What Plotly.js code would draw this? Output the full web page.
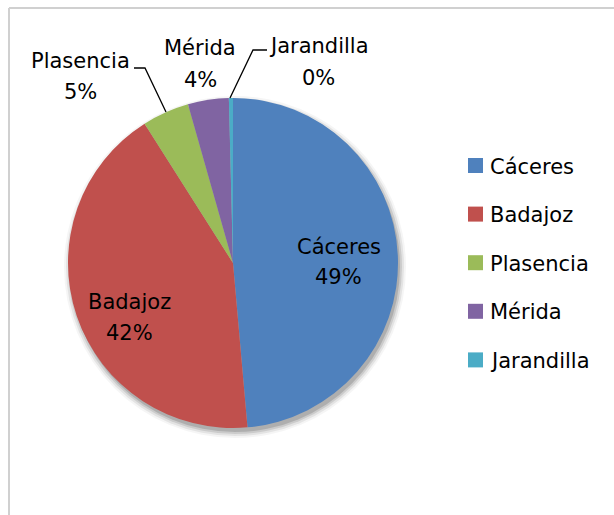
<!DOCTYPE html>
<html>
<head>
<meta charset="utf-8">
<script src="https://cdn.plot.ly/plotly-3.0.1.min.js"></script>
<style>body{margin:0;background:#fff}#chart{width:614px;height:515px}</style>
</head>
<body>
<div id="chart"></div>
<script>
const categories = ["Cáceres", "Badajoz", "Plasencia", "Mérida", "Jarandilla"];
const values = [48.6, 42.4, 4.6, 4.0, 0.4];
const sliceColors = ["#4F81BD", "#C0504D", "#9BBB59", "#8064A2", "#4BACC6"];

const W = 614, H = 515;
const px = x => x / W;
const py = y => 1 - y / H;
const cx = 233, cy = 263, R = 165;
const FONT = "DejaVu Sans";
const FS = 21;
const total = values.reduce((a, b) => a + b, 0);
const pct = values.map(v => Math.round(v / total * 100) + "%");

const trace = {
  type: "pie",
  labels: categories,
  values: values,
  sort: false,
  direction: "clockwise",
  rotation: 0,
  marker: {colors: sliceColors, line: {width: 0}},
  domain: {x: [px(cx - R), px(cx + R)], y: [py(cy + R), py(cy - R)]},
  textinfo: "none",
  showlegend: false,
  hoverinfo: "none"
};

const annotations = [];
const shapes = [];

// chart frame
shapes.push({type: "line", xref: "paper", yref: "paper", x0: px(9), x1: px(9), y0: py(8), y1: py(H + 5), line: {color: "#d0d0d0", width: 2}});
shapes.push({type: "line", xref: "paper", yref: "paper", x0: px(9), x1: px(W + 5), y0: py(8), y1: py(8), line: {color: "#d0d0d0", width: 2}});

// soft drop shadow
[[6, "rgba(0,0,0,0.04)"], [4, "rgba(0,0,0,0.07)"], [2, "rgba(0,0,0,0.10)"], [0, "rgba(0,0,0,0.14)"]].forEach(([g, col]) => {
  shapes.push({type: "circle", xref: "paper", yref: "paper", layer: "below",
    x0: px(cx - R + 2 - g), x1: px(cx + R + 2 + g), y0: py(cy + R + 4 + g), y1: py(cy - R + 4 - g),
    fillcolor: col, line: {width: 0}});
});

// data labels: [index, centerX, nameY, pctY]
const labelPos = [[0, 338.5, 247, 277], [1, 129, 301.5, 333], [2, 80.5, 61, 91.5], [3, 200, 48, 80.5], [4, 318.5, 46.5, 78]];
labelPos.forEach(([i, x, y1, y2]) => {
  annotations.push({xref: "paper", yref: "paper", x: px(x), y: py(y1), text: categories[i], showarrow: false,
    xanchor: "center", yanchor: "middle", font: {family: FONT, size: FS, color: "#000"}});
  annotations.push({xref: "paper", yref: "paper", x: px(x), y: py(y2), text: pct[i], showarrow: false,
    xanchor: "center", yanchor: "middle", font: {family: FONT, size: FS, color: "#000"}});
});

// leader lines
const toPath = pts => pts.map((p, k) => (k ? "L" : "M") + px(p[0]) + "," + py(p[1])).join(" ");
[[[134, 68], [145, 68], [166, 112]], [[267, 50], [253, 50], [230, 98]]].forEach(pts => {
  shapes.push({type: "path", xref: "paper", yref: "paper", path: toPath(pts), line: {color: "#000", width: 1.3}});
});

// legend
categories.forEach((c, i) => {
  const yc = 165.5 + i * 48.6;
  shapes.push({type: "rect", xref: "paper", yref: "paper", x0: px(468), x1: px(483), y0: py(yc + 7.5), y1: py(yc - 7.5),
    fillcolor: sliceColors[i], line: {width: 0}});
  annotations.push({xref: "paper", yref: "paper", x: px(488), y: py(yc + 1), text: c, showarrow: false,
    xanchor: "left", yanchor: "middle", font: {family: FONT, size: FS, color: "#000"}});
});

const layout = {
  width: W, height: H,
  margin: {l: 0, r: 0, t: 0, b: 0},
  paper_bgcolor: "#fff",
  showlegend: false,
  annotations: annotations,
  shapes: shapes
};

Plotly.newPlot("chart", [trace], layout, {displayModeBar: false, staticPlot: true});
</script>
</body>
</html>
